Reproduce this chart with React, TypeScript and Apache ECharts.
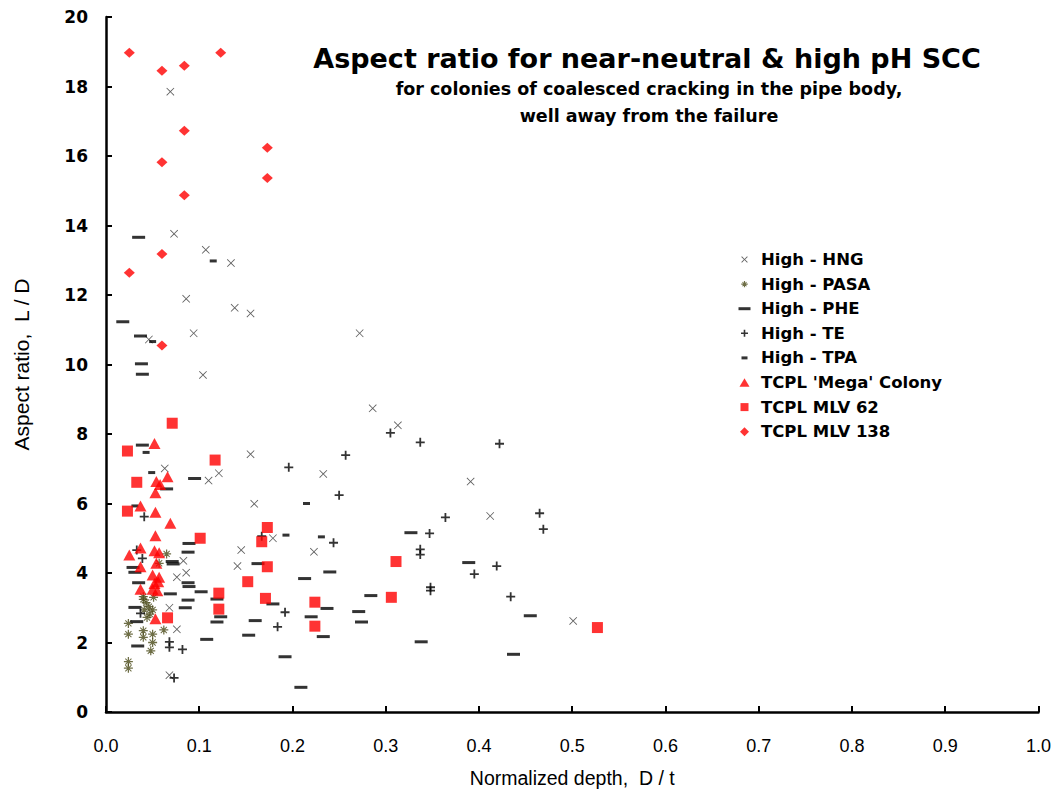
import React, { useEffect, useRef } from "react";
import * as echarts from "echarts";

// ---- data (x = D/t, y = L/D) ----
const xTicks = [0, 0.1, 0.2, 0.3, 0.4, 0.5, 0.6, 0.7, 0.8, 0.9, 1.0];
const yTicks = [0, 2, 4, 6, 8, 10, 12, 14, 16, 18, 20];

const highHNG = [
  [0.069, 17.85], [0.073, 13.76], [0.107, 13.3], [0.134, 12.92], [0.086, 11.89],
  [0.138, 11.63], [0.155, 11.47], [0.094, 10.9], [0.046, 10.72], [0.104, 9.7],
  [0.272, 10.9], [0.286, 8.74], [0.313, 8.25], [0.391, 6.63], [0.412, 5.64],
  [0.501, 2.62], [0.063, 7.01], [0.121, 6.87], [0.11, 6.66], [0.155, 7.42],
  [0.233, 6.85], [0.159, 5.99], [0.179, 5.0], [0.145, 4.66], [0.223, 4.61],
  [0.141, 4.2], [0.083, 4.35], [0.086, 4.01], [0.076, 3.88], [0.068, 3.0],
  [0.076, 2.38], [0.068, 1.06],
];

const highPASA = [
  [0.04, 3.24], [0.043, 3.15], [0.046, 3.03], [0.041, 2.94], [0.05, 2.94],
  [0.047, 2.82], [0.044, 2.72], [0.051, 3.3], [0.04, 3.32], [0.024, 2.55],
  [0.024, 2.24], [0.04, 2.34], [0.04, 2.15], [0.05, 2.24], [0.05, 2.0],
  [0.048, 1.76], [0.062, 2.36], [0.024, 1.45], [0.024, 1.26], [0.065, 4.55],
  [0.057, 4.28],
];

const highPHE = [
  [0.035, 13.66], [0.018, 11.23], [0.037, 10.82], [0.038, 10.02], [0.039, 9.72],
  [0.039, 7.68], [0.095, 6.72], [0.065, 6.42], [0.089, 4.85], [0.088, 4.6],
  [0.071, 4.33], [0.029, 4.16], [0.072, 4.26], [0.031, 4.02], [0.035, 3.72],
  [0.088, 3.72], [0.089, 3.61], [0.102, 3.46], [0.069, 3.4], [0.119, 3.25],
  [0.088, 3.22], [0.123, 2.74], [0.119, 2.59], [0.085, 3.0], [0.031, 3.01],
  [0.033, 2.6], [0.108, 2.09], [0.034, 1.9], [0.163, 4.27], [0.213, 3.84],
  [0.24, 4.03], [0.179, 3.11], [0.237, 2.98], [0.22, 2.74], [0.16, 2.63],
  [0.153, 2.21], [0.233, 2.17], [0.192, 1.59], [0.209, 0.71], [0.271, 2.89],
  [0.327, 5.16], [0.389, 4.3], [0.284, 3.35], [0.274, 2.59], [0.338, 2.02],
  [0.455, 2.77], [0.437, 1.66],
];

const highTE = [
  [0.305, 8.03], [0.337, 7.76], [0.422, 7.72], [0.257, 7.39], [0.196, 7.04],
  [0.25, 6.24], [0.364, 5.6], [0.347, 5.14], [0.465, 5.72], [0.469, 5.26],
  [0.337, 4.68], [0.337, 4.53], [0.419, 4.2], [0.395, 3.97], [0.348, 3.59],
  [0.348, 3.49], [0.434, 3.32], [0.167, 5.06], [0.244, 4.87], [0.192, 2.87],
  [0.184, 2.45], [0.041, 5.62], [0.033, 4.66], [0.039, 4.42], [0.037, 2.84],
  [0.068, 2.02], [0.068, 1.86], [0.082, 1.8], [0.073, 0.98],
];

const highTPA = [
  [0.043, 7.47], [0.049, 6.89], [0.031, 5.93], [0.115, 12.98], [0.05, 10.66],
  [0.215, 6.0], [0.193, 5.09], [0.231, 5.04],
];

const megaColony = [
  [0.052, 7.73], [0.066, 6.77], [0.054, 6.63], [0.058, 6.55], [0.053, 6.31],
  [0.037, 5.93], [0.053, 5.75], [0.069, 5.43], [0.053, 5.07], [0.037, 4.72],
  [0.025, 4.52], [0.052, 4.64], [0.057, 4.58], [0.054, 4.28], [0.037, 4.18],
  [0.05, 3.94], [0.057, 3.88], [0.052, 3.7], [0.056, 3.75], [0.037, 3.53],
  [0.05, 3.53], [0.055, 3.49], [0.053, 2.68],
];

const mlv62 = [
  [0.071, 8.31], [0.023, 7.51], [0.117, 7.25], [0.033, 6.61], [0.023, 5.78],
  [0.101, 5.0], [0.173, 5.31], [0.167, 4.9], [0.173, 4.18], [0.152, 3.75],
  [0.121, 3.42], [0.171, 3.27], [0.224, 3.16], [0.121, 2.96], [0.224, 2.47],
  [0.066, 2.71], [0.311, 4.33], [0.306, 3.3], [0.527, 2.43],
];

const mlv138 = [
  [0.025, 18.97], [0.123, 18.97], [0.06, 18.45], [0.084, 18.6], [0.084, 16.73],
  [0.173, 16.24], [0.06, 15.82], [0.173, 15.37], [0.084, 14.87], [0.06, 13.18],
  [0.025, 12.64], [0.06, 10.55],
];

const seriesNames = [
  "High - HNG",
  "High - PASA",
  "High - PHE",
  "High - TE",
  "High - TPA",
  "TCPL 'Mega' Colony",
  "TCPL MLV 62",
  "TCPL MLV 138",
];

// ---- symbol path builders ----
const poly = (pts: number[][]) =>
  "M" + pts.map((p) => p[0].toFixed(2) + "," + p[1].toFixed(2)).join("L") + "Z";

const xShape = (cx: number, cy: number, a: number, d: number) =>
  poly([
    [-a, -a + d], [-a + d, -a], [0, -d], [a - d, -a], [a, -a + d], [d, 0],
    [a, a - d], [a - d, a], [0, d], [-a + d, a], [-a, a - d], [-d, 0],
  ].map((p) => [cx + p[0], cy + p[1]]));

const plusShape = (cx: number, cy: number, a: number, t: number) =>
  poly([
    [-t, -a], [t, -a], [t, -t], [a, -t], [a, t], [t, t], [t, a], [-t, a],
    [-t, t], [-a, t], [-a, -t], [-t, -t],
  ].map((p) => [cx + p[0], cy + p[1]]));

const rectShape = (x0: number, y0: number, w: number, h: number) =>
  poly([[x0, y0], [x0 + w, y0], [x0 + w, y0 + h], [x0, y0 + h]]);

// series symbols
const SYM_X = "path://" + xShape(5, 5, 5, 0.75);
const SYM_ASTER = "path://" + plusShape(5, 5, 5, 0.7) + xShape(5, 5, 3.8, 0.8);
const SYM_PLUS = "path://" + plusShape(5, 5, 5, 1);

// legend icons (box 18 x 9, icon centred at x = 6.5)
const LB = "path://M0,0M18,9";
const LEG_ICONS = [
  LB + xShape(6.5, 4.5, 3.2, 0.6),
  LB + plusShape(6.5, 4.5, 3.2, 0.6) + xShape(6.5, 4.5, 2.4, 0.6),
  LB + rectShape(0.5, 3, 12, 3),
  LB + plusShape(6.5, 4.5, 3.5, 0.8),
  LB + rectShape(3.5, 3, 6, 3),
  LB + poly([[6.5, 0.3], [11.5, 8.7], [1.5, 8.7]]),
  LB + rectShape(2.5, 0.5, 8, 8),
  LB + poly([[6.5, 0], [11, 4.5], [6.5, 9], [2, 4.5]]),
];

export default function App() {
  const ref = useRef<HTMLDivElement>(null);

  useEffect(() => {
    document.body.style.margin = "0";
    if (!ref.current) return;
    const chart = echarts.init(ref.current, undefined, { renderer: "svg" });

    const mk = (name: string, data: number[][], extra: any) => ({
      type: "scatter",
      name,
      data,
      z: 3,
      ...extra,
    });

    const titleFont = {
      fontFamily: "DejaVu Sans",
      fontWeight: "bold",
      color: "#000",
    };

    const option: any = {
      animation: false,
      backgroundColor: "#ffffff",
      title: [
        {
          text: "Aspect ratio for near-neutral & high pH SCC",
          left: 642,
          top: 40,
          textAlign: "center",
          textStyle: { ...titleFont, fontSize: 27 },
        },
        {
          text: "for colonies of coalesced cracking in the pipe body,",
          left: 644,
          top: 75,
          textAlign: "center",
          textStyle: { ...titleFont, fontSize: 17.5 },
        },
        {
          text: "well away from the failure",
          left: 644,
          top: 102,
          textAlign: "center",
          textStyle: { ...titleFont, fontSize: 17.5 },
        },
      ],
      legend: {
        orient: "vertical",
        left: 733,
        top: 246,
        itemWidth: 18,
        itemHeight: 9,
        itemGap: 7.6,
        symbolKeepAspect: true,
        textStyle: {
          fontFamily: "DejaVu Sans",
          fontWeight: "bold",
          fontSize: 16.5,
          color: "#000",
        },
        data: seriesNames.map((n, i) => ({ name: n, icon: LEG_ICONS[i] })),
      },
      grid: { left: 106, right: 8, top: 17, bottom: 83, containLabel: false },
      xAxis: {
        type: "value",
        min: xTicks[0],
        max: xTicks[xTicks.length - 1],
        interval: 0.1,
        name: "Normalized depth,  D / t",
        nameLocation: "middle",
        nameGap: 56,
        nameTextStyle: {
          fontFamily: "Liberation Sans",
          fontSize: 19.5,
          color: "#000",
        },
        axisLine: { lineStyle: { color: "#000", width: 2.5 } },
        axisTick: { inside: true, length: 6, lineStyle: { color: "#000", width: 2 } },
        axisLabel: {
          margin: 25,
          fontFamily: "Liberation Sans",
          fontSize: 18,
          color: "#000",
          formatter: (v: number) => v.toFixed(1),
        },
        splitLine: { show: false },
      },
      yAxis: {
        type: "value",
        min: yTicks[0],
        max: yTicks[yTicks.length - 1],
        interval: 2,
        name: "Aspect ratio,  L / D",
        nameLocation: "middle",
        nameGap: 74,
        nameTextStyle: {
          fontFamily: "Liberation Sans",
          fontSize: 21,
          color: "#000",
        },
        axisLine: { lineStyle: { color: "#000", width: 2.5 } },
        axisTick: { inside: true, length: 6, lineStyle: { color: "#000", width: 2 } },
        axisLabel: {
          margin: 18,
          fontFamily: "DejaVu Sans",
          fontWeight: "bold",
          fontSize: 17,
          color: "#000",
        },
        splitLine: { show: false },
      },
      series: [
        mk(seriesNames[0], highHNG, {
          symbol: SYM_X,
          symbolSize: 8,
          itemStyle: { color: "#3a3a3a" },
        }),
        mk(seriesNames[1], highPASA, {
          symbol: SYM_ASTER,
          symbolSize: 9,
          itemStyle: { color: "#4a4a18" },
        }),
        mk(seriesNames[2], highPHE, {
          symbol: "rect",
          symbolSize: [13, 3],
          itemStyle: { color: "#000" },
        }),
        mk(seriesNames[3], highTE, {
          symbol: SYM_PLUS,
          symbolSize: 9,
          itemStyle: { color: "#000" },
        }),
        mk(seriesNames[4], highTPA, {
          symbol: "rect",
          symbolSize: [7, 3],
          itemStyle: { color: "#000" },
        }),
        mk(seriesNames[5], megaColony, {
          symbol: "triangle",
          symbolSize: [12, 11],
          itemStyle: { color: "#ff0000" },
        }),
        mk(seriesNames[6], mlv62, {
          symbol: "rect",
          symbolSize: 11,
          itemStyle: { color: "#ff0000" },
        }),
        mk(seriesNames[7], mlv138, {
          symbol: "diamond",
          symbolSize: [11, 10],
          itemStyle: { color: "#ff0000" },
        }),
      ],
    };

    chart.setOption(option);
    return () => chart.dispose();
  }, []);

  return <div ref={ref} style={{ width: 1054, height: 795 }} />;
}
